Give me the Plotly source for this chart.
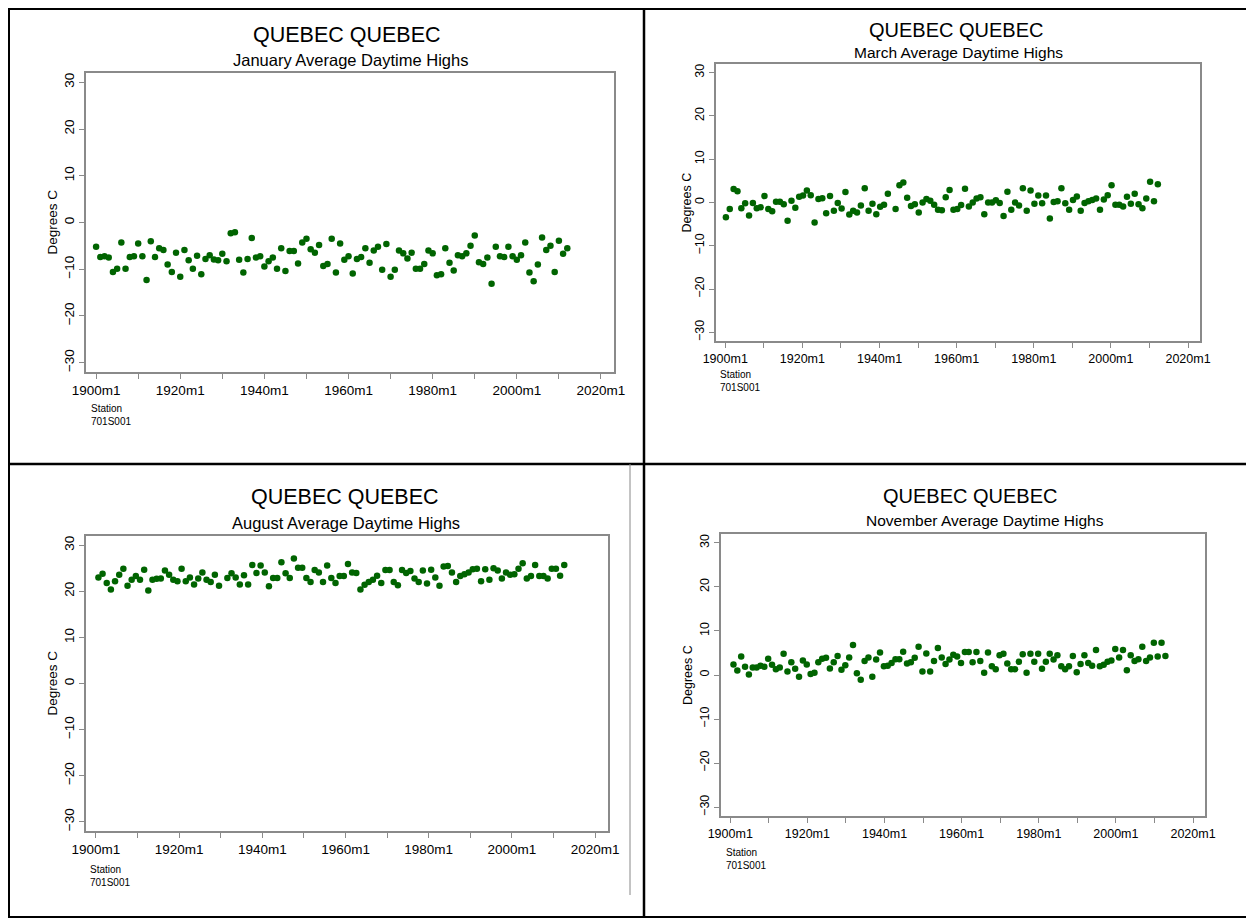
import plotly.graph_objects as go

W, H = 1254, 919
OFF = 8  # page offset of the plot div (default body margin)

years = list(range(1900, 2013))

jan = [-5.2, -7.4, -7.2, -7.5, -10.6, -9.9, -4.3, -9.9, -7.4, -7.2,
       -4.5, -7.2, -12.3, -4.0, -7.4, -5.5, -5.9, -9.0, -10.6, -6.5,
       -11.6, -5.9, -8.1, -9.9, -7.1, -11.1, -7.8, -7.0, -7.9, -8.1,
       -6.7, -8.3, -2.3, -2.1, -8.0, -10.7, -7.8, -3.3, -7.5, -7.2,
       -9.4, -8.3, -7.5, -9.9, -5.5, -10.4, -6.1, -6.1, -8.8, -4.3,
       -3.5, -5.7, -6.5, -4.8, -9.3, -8.9, -3.5, -10.7, -4.5, -8.0,
       -7.2, -10.9, -7.8, -7.4, -5.5, -8.6, -6.0, -5.2, -10.1, -4.6,
       -11.6, -10.1, -6.0, -6.6, -7.7, -6.5, -9.9, -9.9, -8.9, -6.0,
       -6.6, -11.3, -11.1, -5.5, -8.6, -10.3, -7.0, -7.2, -6.6, -5.0,
       -2.8, -8.5, -8.9, -7.5, -13.1, -5.2, -7.2, -7.4, -5.2, -7.2,
       -8.0, -7.0, -4.3, -10.7, -12.6, -9.0, -3.2, -5.9, -5.0, -10.6,
       -3.9, -6.7, -5.5]

mar = [-3.4, -1.5, 3.1, 2.6, -1.3, -0.2, -3.0, -0.1, -1.3, -1.1,
       1.5, -1.5, -2.0, 0.2, 0.2, -0.4, -4.2, 0.4, -1.2, 1.3,
       1.6, 2.8, 1.7, -4.6, 0.8, 1.0, -2.5, 1.5, -1.9, -0.1,
       -1.4, 2.4, -2.8, -1.9, -2.3, -0.7, 3.3, -1.9, -0.3, -2.7,
       -1.0, -0.5, 2.0, None, -1.5, 4.0, 4.6, 1.1, -0.8, -0.4,
       -2.3, 0.0, 0.8, 0.4, -0.5, -1.7, -1.8, 1.2, 2.9, -1.7,
       -1.5, -0.6, 3.2, -0.9, 0.0, 0.9, 1.2, -2.7, 0.0, 0.0,
       0.5, -0.1, -3.1, 2.5, -1.7, 0.0, -0.7, 3.3, -1.9, 2.8,
       -0.3, 1.6, -0.2, 1.6, -3.7, 0.1, 0.3, 3.3, -0.2, -1.7,
       0.6, 1.4, -1.9, -0.1, 0.3, 0.6, 0.9, -1.7, 0.7, 1.7,
       4.0, -0.5, -0.5, -0.9, 1.3, -0.3, 2.0, -0.4, -1.3, 0.9,
       4.8, 0.3, 4.2]

aug = [23.0, 23.8, 21.8, 20.4, 22.2, 23.6, 24.9, 21.2, 22.5, 23.3,
       22.5, 24.7, 20.2, 22.5, 22.7, 22.8, 24.5, 23.6, 22.5, 22.2,
       24.9, 22.2, 23.0, 21.5, 22.8, 24.1, 22.5, 22.0, 23.6, 21.2,
       None, 22.9, 23.9, 23.0, 21.5, 23.5, 21.5, 25.7, 24.0, 25.6,
       24.1, 21.1, 22.9, 22.9, 26.3, 23.9, 22.9, 27.1, 25.1, 25.1,
       22.9, 22.0, 24.6, 24.1, 22.0, 25.6, 22.9, 21.8, 23.3, 23.3,
       25.9, 24.1, 24.0, 20.4, 21.4, 22.0, 22.5, 23.4, 21.8, 24.6,
       24.6, 22.0, 21.3, 24.6, 24.0, 24.4, 22.8, 22.0, 24.5, 21.7,
       24.7, 23.0, 21.2, 25.4, 25.5, 24.1, 22.0, 23.3, 23.7, 24.1,
       24.8, 24.9, 22.2, 24.8, 22.5, 25.0, 24.5, 22.8, 24.1, 23.6,
       23.7, 24.9, 26.1, 22.8, 23.3, 25.7, 23.3, 23.3, 22.8, 24.9,
       24.9, 23.4, 25.7]

nov = [2.4, 1.0, 4.2, 1.9, 0.1, 1.7, 1.7, 2.1, 1.9, 3.7,
       2.3, 1.3, 1.7, 4.8, 0.8, 2.9, 1.4, -0.4, 3.3, 2.4,
       0.2, 0.5, 2.9, 3.7, 3.9, 1.5, 2.9, 4.3, 1.2, 2.2,
       4.0, 6.8, 0.4, -1.1, 3.2, 4.0, -0.4, 3.5, 5.1, 2.0,
       2.1, 2.7, 3.6, 3.6, 5.3, 2.6, 2.9, 3.9, 6.4, 0.8,
       4.9, 0.8, 3.2, 6.1, 4.0, 2.5, 3.5, 4.6, 4.2, 2.7,
       5.2, 5.2, 2.9, 5.2, 3.2, 0.5, 5.1, 2.0, 1.3, 4.5,
       4.8, 2.6, 1.3, 1.3, 3.0, 4.7, 0.5, 4.8, 3.0, 4.8,
       1.4, 3.0, 4.8, 3.5, 4.5, 2.0, 1.3, 2.0, 4.3, 0.6,
       2.5, 4.5, 2.7, 2.1, 5.7, 2.0, 2.3, 3.0, 3.3, 5.9,
       4.0, 5.7, 1.1, 4.5, 3.2, 3.6, 6.4, 3.2, 4.0, 7.3,
       4.2, 7.3, 4.3]

month_names = ["January", "March", "August", "November"]
month_index = [1, 3, 8, 11]
series = [jan, mar, aug, nov]

station_title = "QUEBEC QUEBEC"
station_note = "Station<br>701S001"
y_ticks = [-30, -20, -10, 0, 10, 20, 30]
x_ticks = list(range(1900, 2021, 10))
x_ticktext = [f"{v}m1" if (v - 1900) % 20 == 0 else "" for v in x_ticks]

# panel geometry in page pixels: (left, right, top, bottom)
panels = [
    dict(box=(86, 614, 73, 372), title=(347, 35), sub=(350, 60), tfs=21.5, sfs=16.5,
         ytitle_x=52, note=(89, 401), fs=13.5),
    dict(box=(716, 1200, 64, 341), title=(956, 30), sub=(958, 53), tfs=20, sfs=15.5,
         ytitle_x=686, note=(718, 367), fs=12.5),
    dict(box=(86, 608, 536, 831), title=(345, 497), sub=(346, 523), tfs=21.5, sfs=16.5,
         ytitle_x=52, note=(88, 862), fs=13.5),
    dict(box=(721, 1205, 534, 816), title=(970, 496), sub=(985, 520), tfs=20, sfs=15.5,
         ytitle_x=688, note=(724, 845), fs=12.5),
]

FONT = "Liberation Sans, Arial, sans-serif"
FRAME = "#8a8a8a"
DOT = "#006400"


def px(x):
    return (x - OFF) / W


def py(y):
    return 1 - (y - OFF) / H


fig = go.Figure()
annotations = []
layout = {}

for i, (p, vals, mname, midx) in enumerate(zip(panels, series, month_names, month_index)):
    k = "" if i == 0 else str(i + 1)
    xs = [yr + (midx - 1) / 12 for yr in years]
    fig.add_trace(go.Scatter(
        x=xs, y=vals, mode="markers",
        marker=dict(color=DOT, size=6.5, line=dict(width=0)),
        xaxis="x" + k, yaxis="y" + k, showlegend=False, hoverinfo="x+y"))
    l, r, t, b = p["box"]
    layout["xaxis" + k] = dict(
        domain=[px(l), px(r)], anchor="y" + k, range=[1897.6, 2023.1],
        tickvals=x_ticks, ticktext=x_ticktext, ticks="outside", ticklen=5,
        tickcolor=FRAME, tickwidth=1, showline=True, linecolor=FRAME, linewidth=1.5,
        mirror=True, showgrid=False, zeroline=False, automargin=False,
        tickfont=dict(family=FONT, size=p["fs"], color="#000"))
    layout["yaxis" + k] = dict(
        domain=[py(b), py(t)], anchor="x" + k, range=[-32, 32],
        tickvals=y_ticks, ticks="outside", ticklen=5, tickcolor=FRAME, tickwidth=1,
        showline=True, linecolor=FRAME, linewidth=1.5, mirror=True,
        showgrid=False, zeroline=False, tickangle=-90, automargin=False,
        tickfont=dict(family=FONT, size=p["fs"], color="#000"))
    annotations.append(dict(x=px(p["title"][0]), y=py(p["title"][1]), xref="paper", yref="paper",
                            text=station_title, showarrow=False, xanchor="center", yanchor="middle",
                            font=dict(family=FONT, size=p["tfs"], color="#000")))
    annotations.append(dict(x=px(p["sub"][0]), y=py(p["sub"][1]), xref="paper", yref="paper",
                            text=f"{mname} Average Daytime Highs", showarrow=False,
                            xanchor="center", yanchor="middle",
                            font=dict(family=FONT, size=p["sfs"], color="#000")))
    annotations.append(dict(x=px(p["ytitle_x"]), y=py((t + b) / 2), xref="paper", yref="paper",
                            text="Degrees C", showarrow=False, textangle=-90,
                            xanchor="center", yanchor="middle",
                            font=dict(family=FONT, size=p["fs"], color="#000")))
    annotations.append(dict(x=px(p["note"][0]), y=py(p["note"][1]), xref="paper", yref="paper",
                            text=station_note, showarrow=False, align="left",
                            xanchor="left", yanchor="top",
                            font=dict(family=FONT, size=10, color="#000")))

shapes = []


def hline(y, x0, x1, w=2, c="#000"):
    shapes.append(dict(type="line", xref="paper", yref="paper", x0=px(x0), x1=px(x1),
                       y0=py(y), y1=py(y), line=dict(color=c, width=w)))


def vline(x, y0, y1, w=2, c="#000"):
    shapes.append(dict(type="line", xref="paper", yref="paper", x0=px(x), x1=px(x),
                       y0=py(y0), y1=py(y1), line=dict(color=c, width=w)))


hline(9, 8, 1252)
hline(464, 8, 1252, w=2.5)
hline(917, 8, 1252)
vline(9, 8, 917)
vline(644, 8, 917, w=2.5)
vline(1251, 8, 917)
vline(630, 464, 895, w=1, c="#888")

fig.update_layout(
    width=W, height=H,
    margin=dict(l=0, r=0, t=0, b=0, pad=0, autoexpand=False),
    paper_bgcolor="white", plot_bgcolor="white",
    annotations=annotations, shapes=shapes, **layout)

fig.write_html("out.html")
